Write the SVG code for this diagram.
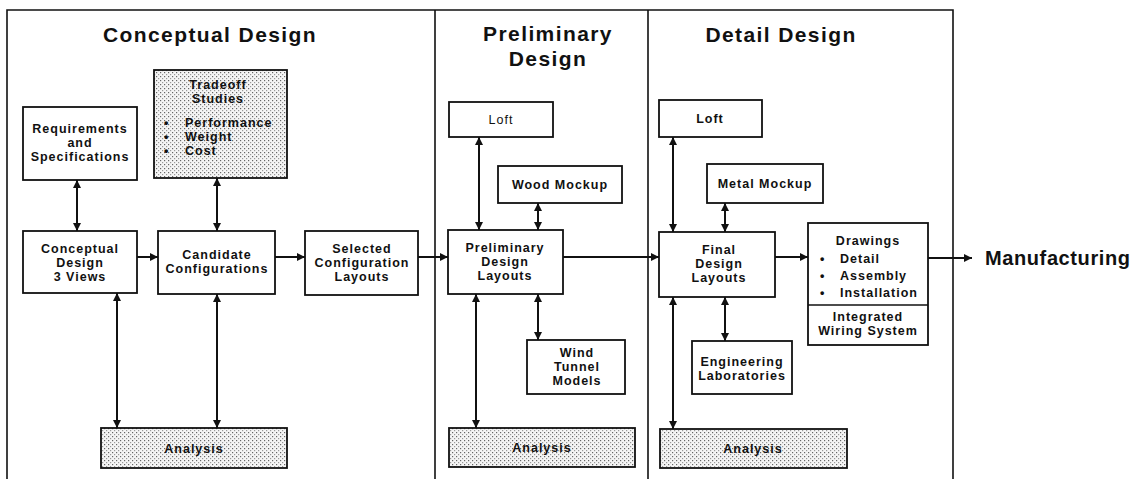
<svg xmlns="http://www.w3.org/2000/svg" width="1139" height="479" viewBox="0 0 1139 479">
<style>
.frame{fill:none;stroke:#111;stroke-width:1.6}
.box{fill:#fff;stroke:#111;stroke-width:1.8}
.shade{fill:url(#dots);stroke:#111;stroke-width:1.8}
.t{font-family:"Liberation Sans",Arial,sans-serif;font-weight:bold;font-size:12.5px;letter-spacing:1px;text-anchor:middle;fill:#111}
.l{text-anchor:start}
.n{font-weight:normal}
.h{font-family:"Liberation Sans",Arial,sans-serif;font-weight:bold;font-size:21px;letter-spacing:1.4px;text-anchor:middle;fill:#111}
.c{fill:none;stroke:#111;stroke-width:2;marker-end:url(#ah)}
.d{marker-start:url(#ah)}
</style>
<defs>
<pattern id="dots" width="4" height="4" patternUnits="userSpaceOnUse">
<rect width="4" height="4" fill="#f5f5f5"/>
<rect x="0" y="0" width="1.2" height="1.2" fill="#666"/>
<rect x="2" y="2" width="1.2" height="1.2" fill="#9a9a9a"/>
</pattern>
<marker id="ah" viewBox="0 0 10 10" refX="10" refY="5" markerUnits="userSpaceOnUse" markerWidth="9" markerHeight="8" orient="auto-start-reverse">
<path d="M0,0 L10,5 L0,10 z" fill="#111"/>
</marker>
</defs>
<rect width="1139" height="479" fill="#fff"/>
<g id="frame">
<path class="frame" d="M7,479 L7,10 L953,10 L953,479 M435,10 L435,479 M648,10 L648,479"/>
<text class="h" x="210" y="42">Conceptual Design</text>
<text class="h" x="548" y="41">Preliminary</text>
<text class="h" x="548" y="66">Design</text>
<text class="h" x="781" y="42">Detail Design</text>
</g>
<g id="connectors">
<path class="c d" d="M77,180 L77,231"/>
<path class="c d" d="M217,178 L217,231"/>
<path class="c d" d="M117,293 L117,428"/>
<path class="c d" d="M217,294 L217,428"/>
<path class="c" d="M137,257 L158,257"/>
<path class="c" d="M275,257 L305,257"/>
<path class="c" d="M418,257 L448,257"/>
<path class="c d" d="M479,137 L479,230"/>
<path class="c d" d="M538,203 L538,230"/>
<path class="c d" d="M538,294 L538,340"/>
<path class="c d" d="M476,294 L476,428"/>
<path class="c" d="M563,257 L659,257"/>
<path class="c d" d="M673,137 L673,232"/>
<path class="c d" d="M725,203 L725,232"/>
<path class="c d" d="M725,297 L725,341"/>
<path class="c d" d="M673,297 L673,429"/>
<path class="c" d="M775,257 L808,257"/>
<path class="c" d="M928,258 L972,258"/>
</g>
<g id="requirements">
<rect class="box" x="23" y="107" width="114" height="73"/>
<text class="t" x="80" y="133">Requirements</text>
<text class="t" x="80" y="147">and</text>
<text class="t" x="80" y="161">Specifications</text>
</g>
<g id="tradeoff">
<rect class="shade" x="154" y="70" width="133" height="108"/>
<text class="t" x="218" y="89">Tradeoff</text>
<text class="t" x="218" y="103">Studies</text>
<text class="t l" x="164" y="127">•</text>
<text class="t l" x="185" y="127">Performance</text>
<text class="t l" x="164" y="141">•</text>
<text class="t l" x="185" y="141">Weight</text>
<text class="t l" x="164" y="155">•</text>
<text class="t l" x="185" y="155">Cost</text>
</g>
<g id="conceptual3views">
<rect class="box" x="23" y="231" width="114" height="62"/>
<text class="t" x="80" y="253">Conceptual</text>
<text class="t" x="80" y="267">Design</text>
<text class="t" x="80" y="281">3 Views</text>
</g>
<g id="candidate">
<rect class="box" x="158" y="231" width="117" height="63"/>
<text class="t" x="217" y="259">Candidate</text>
<text class="t" x="217" y="273">Configurations</text>
</g>
<g id="selected">
<rect class="box" x="305" y="231" width="113" height="64"/>
<text class="t" x="362" y="253">Selected</text>
<text class="t" x="362" y="267">Configuration</text>
<text class="t" x="362" y="281">Layouts</text>
</g>
<g id="analysis1">
<rect class="shade" x="101" y="428" width="186" height="40"/>
<text class="t" x="194" y="453">Analysis</text>
</g>
<g id="loft1">
<rect class="box" x="449" y="102" width="104" height="35"/>
<text class="t n" x="501" y="124">Loft</text>
</g>
<g id="woodmockup">
<rect class="box" x="498" y="166" width="124" height="37"/>
<text class="t" x="560" y="189">Wood Mockup</text>
</g>
<g id="prelimlayouts">
<rect class="box" x="448" y="230" width="115" height="64"/>
<text class="t" x="505" y="252">Preliminary</text>
<text class="t" x="505" y="266">Design</text>
<text class="t" x="505" y="280">Layouts</text>
</g>
<g id="windtunnel">
<rect class="box" x="527" y="340" width="98" height="54"/>
<text class="t" x="577" y="357">Wind</text>
<text class="t" x="577" y="371">Tunnel</text>
<text class="t" x="577" y="385">Models</text>
</g>
<g id="analysis2">
<rect class="shade" x="449" y="428" width="186" height="39"/>
<text class="t" x="542" y="452">Analysis</text>
</g>
<g id="loft2">
<rect class="box" x="659" y="100" width="103" height="37"/>
<text class="t" x="710" y="123">Loft</text>
</g>
<g id="metalmockup">
<rect class="box" x="707" y="164" width="116" height="39"/>
<text class="t" x="765" y="188">Metal Mockup</text>
</g>
<g id="finallayouts">
<rect class="box" x="659" y="232" width="116" height="65"/>
<text class="t" x="719" y="254">Final</text>
<text class="t" x="719" y="268">Design</text>
<text class="t" x="719" y="282">Layouts</text>
</g>
<g id="englabs">
<rect class="box" x="692" y="341" width="100" height="53"/>
<text class="t" x="742" y="366">Engineering</text>
<text class="t" x="742" y="380">Laboratories</text>
</g>
<g id="analysis3">
<rect class="shade" x="660" y="429" width="187" height="39"/>
<text class="t" x="753" y="453">Analysis</text>
</g>
<g id="drawings">
<rect class="box" x="808" y="223" width="120" height="122"/>
<line x1="808" y1="305" x2="928" y2="305" stroke="#111" stroke-width="1.5"/>
<text class="t" x="868" y="245">Drawings</text>
<text class="t l" x="820" y="263">•</text>
<text class="t l" x="840" y="263">Detail</text>
<text class="t l" x="820" y="280">•</text>
<text class="t l" x="840" y="280">Assembly</text>
<text class="t l" x="820" y="297">•</text>
<text class="t l" x="840" y="297">Installation</text>
<text class="t" x="868" y="321">Integrated</text>
<text class="t" x="868" y="335">Wiring System</text>
</g>
<g id="manufacturing">
<text class="h" x="985" y="265" style="text-anchor:start;font-size:20px;letter-spacing:0.6px">Manufacturing</text>
</g>
</svg>
